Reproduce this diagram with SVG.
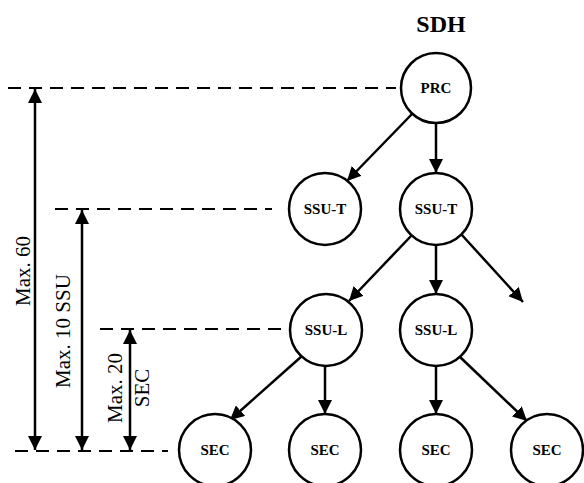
<svg xmlns="http://www.w3.org/2000/svg" width="584" height="483" viewBox="0 0 584 483">
<style>
.node circle{fill:#fff;stroke:#000;stroke-width:2.5}
.node text{font-family:"Liberation Serif","Times New Roman",serif;font-weight:bold;font-size:15px;text-anchor:middle;fill:#000}
.conn line{stroke:#000;stroke-width:2.5}
.dash{stroke:#000;stroke-width:1.8;stroke-dasharray:13 8}
.lbl{font-family:"Liberation Serif","Times New Roman",serif;font-size:21px;text-anchor:middle;fill:#000}
</style>
<defs>
<marker id="ah" markerUnits="userSpaceOnUse" markerWidth="16" markerHeight="14" refX="14" refY="7" orient="auto-start-reverse">
<path d="M0,0 L14,7 L0,14 Z" fill="#000"/>
</marker>
</defs>
<text x="441" y="32" style="font-family:'Liberation Serif','Times New Roman',serif;font-weight:bold;font-size:24px;text-anchor:middle">SDH</text>
<g id="guides">
<line class="dash" x1="8" y1="88" x2="396" y2="88"/>
<line class="dash" x1="55" y1="209" x2="272" y2="209"/>
<line class="dash" x1="100" y1="329" x2="290" y2="329"/>
<line class="dash" x1="15" y1="451" x2="168" y2="451"/>
</g>
<g id="connectors" class="conn">
<line x1="35" y1="89" x2="35" y2="450" marker-start="url(#ah)" marker-end="url(#ah)"/>
<line x1="82" y1="210" x2="82" y2="450" marker-start="url(#ah)" marker-end="url(#ah)"/>
<line x1="130" y1="330" x2="130" y2="450" marker-start="url(#ah)" marker-end="url(#ah)"/>
<line x1="412" y1="114" x2="347" y2="181" marker-end="url(#ah)"/>
<line x1="436" y1="123" x2="436" y2="173" marker-end="url(#ah)"/>
<line x1="412" y1="235" x2="349" y2="301" marker-end="url(#ah)"/>
<line x1="436" y1="245" x2="436" y2="294" marker-end="url(#ah)"/>
<line x1="461" y1="234" x2="523" y2="302" marker-end="url(#ah)"/>
<line x1="302" y1="356" x2="230" y2="420" marker-end="url(#ah)"/>
<line x1="325" y1="366" x2="325" y2="414" marker-end="url(#ah)"/>
<line x1="436" y1="366" x2="436" y2="414" marker-end="url(#ah)"/>
<line x1="460" y1="357" x2="527" y2="421" marker-end="url(#ah)"/>
</g>
<g id="prc" class="node"><circle cx="436" cy="88" r="35"/><text x="436" y="93">PRC</text></g>
<g id="ssut1" class="node"><circle cx="325" cy="209" r="36"/><text x="325" y="214">SSU-T</text></g>
<g id="ssut2" class="node"><circle cx="436" cy="209" r="36"/><text x="436" y="214">SSU-T</text></g>
<g id="ssul1" class="node"><circle cx="326" cy="330" r="36"/><text x="326" y="335">SSU-L</text></g>
<g id="ssul2" class="node"><circle cx="436" cy="330" r="36"/><text x="436" y="335">SSU-L</text></g>
<g id="sec1" class="node"><circle cx="215" cy="450" r="36"/><text x="215" y="455">SEC</text></g>
<g id="sec2" class="node"><circle cx="325" cy="450" r="36"/><text x="325" y="455">SEC</text></g>
<g id="sec3" class="node"><circle cx="436" cy="450" r="36"/><text x="436" y="455">SEC</text></g>
<g id="sec4" class="node"><circle cx="547" cy="450" r="36"/><text x="547" y="455">SEC</text></g>
<g id="labels">
<text class="lbl" transform="translate(30,271) rotate(-90)">Max. 60</text>
<text class="lbl" transform="translate(70,331) rotate(-90)">Max. 10 SSU</text>
<text class="lbl" transform="translate(122,388) rotate(-90)">Max. 20</text>
<text class="lbl" transform="translate(149,388) rotate(-90)">SEC</text>
</g>
</svg>
